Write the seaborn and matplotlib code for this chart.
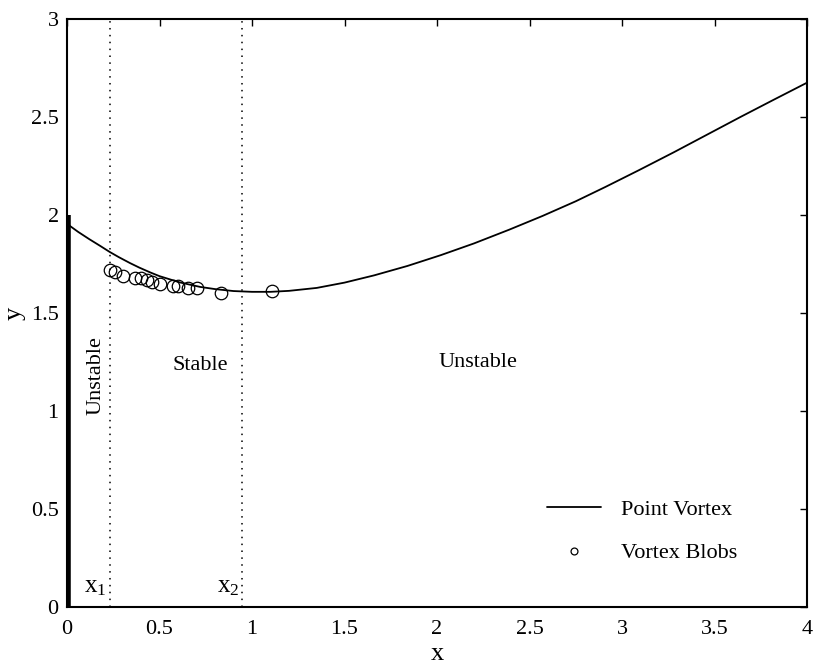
import matplotlib
matplotlib.use("Agg")
import matplotlib.pyplot as plt
import seaborn as sns
import pandas as pd

# Equilibrium curve of a point vortex behind the plate
curve_x = [0.0, 0.06, 0.12, 0.18, 0.23, 0.28, 0.34, 0.39, 0.45, 0.50, 0.61, 0.72,
           0.80, 0.90, 1.00, 1.10, 1.20, 1.35, 1.50, 1.66, 1.84, 2.02, 2.20, 2.39,
           2.57, 2.75, 2.91, 3.09, 3.28, 3.46, 3.64, 3.82, 4.00]
curve_y = [1.955, 1.914, 1.877, 1.842, 1.812, 1.785, 1.755, 1.732, 1.707, 1.688, 1.656, 1.633,
           1.622, 1.612, 1.608, 1.608, 1.613, 1.628, 1.655, 1.692, 1.740, 1.795, 1.855, 1.925,
           1.995, 2.070, 2.143, 2.228, 2.320, 2.410, 2.500, 2.588, 2.675]

# Vortex-blob equilibrium positions
blob_x = [0.23, 0.26, 0.30, 0.37, 0.40, 0.43, 0.46, 0.50, 0.575, 0.60, 0.655, 0.70, 0.83, 1.11]
blob_y = [1.72, 1.71, 1.69, 1.68, 1.68, 1.67, 1.66, 1.65, 1.64, 1.64, 1.63, 1.63, 1.60, 1.61]

# Stability boundaries
x1_pos = 0.235
x2_pos = 0.945
plate_height = 2.0

x_ticks = [0, 0.5, 1, 1.5, 2, 2.5, 3, 3.5, 4]
x_tick_labels = ["0", "0.5", "1", "1.5", "2", "2.5", "3", "3.5", "4"]
y_ticks = [0, 0.5, 1, 1.5, 2, 2.5, 3]
y_tick_labels = ["0", "0.5", "1", "1.5", "2", "2.5", "3"]

sns.set_theme(style="white")
plt.rcParams["font.family"] = ["Liberation Serif", "DejaVu Serif"]
plt.rcParams["mathtext.fontset"] = "custom"
plt.rcParams["mathtext.rm"] = "Liberation Serif"
plt.rcParams["mathtext.it"] = "Liberation Serif:italic"
plt.rcParams["text.color"] = "black"
plt.rcParams["axes.labelcolor"] = "black"

fig = plt.figure(figsize=(8.17, 6.66), dpi=100)
ax = fig.add_axes([67 / 817, 1 - 607 / 666, 740 / 817, 588 / 666])

curve = pd.DataFrame({"x": curve_x, "y": curve_y})
blobs = pd.DataFrame({"x": blob_x, "y": blob_y})

sns.lineplot(data=curve, x="x", y="y", color="black", lw=1.3, sort=False,
             estimator=None, ax=ax, label="Point Vortex", solid_joinstyle="round")
sns.lineplot(data=blobs, x="x", y="y", color="black", linestyle="none", marker="o",
             markersize=9, markerfacecolor="none", markeredgecolor="black",
             markeredgewidth=0.9, sort=False, estimator=None, ax=ax,
             label="Vortex Blobs")

# Flat plate along the y axis
ax.plot([0.008, 0.008], [0, plate_height], color="black", lw=4, solid_capstyle="butt")

# Stability boundaries
for xv in (x1_pos, x2_pos):
    ax.axvline(xv, color="black", lw=1.1, linestyle=(0, (1, 3.5)))

ax.text(0.155, 1.18, "Unstable", rotation=90, ha="center", va="center", fontsize=16)
ax.text(0.72, 1.23, "Stable", ha="center", va="center", fontsize=16)
ax.text(2.22, 1.25, "Unstable", ha="center", va="center", fontsize=16)
ax.text(0.15, 0.1, r"$\mathrm{x}_1$", ha="center", va="center", fontsize=18)
ax.text(0.87, 0.1, r"$\mathrm{x}_2$", ha="center", va="center", fontsize=18)

ax.set_xlim(0, 4)
ax.set_ylim(0, 3)
ax.set_xticks(x_ticks)
ax.set_xticklabels(x_tick_labels)
ax.set_yticks(y_ticks)
ax.set_yticklabels(y_tick_labels)
ax.tick_params(direction="in", length=5, width=1, top=True, right=True,
               labelsize=16, colors="black")
ax.tick_params(axis="x", pad=9)
ax.tick_params(axis="y", pad=6)
for sp in ax.spines.values():
    sp.set_color("black")
    sp.set_linewidth(1.5)

ax.set_xlabel("x", fontsize=19, labelpad=3)
ax.set_ylabel("y", fontsize=19, labelpad=4)

leg = ax.legend(loc="lower left", bbox_to_anchor=(0.622, 0.04), frameon=False,
                fontsize=16, handlelength=2.4, handletextpad=0.9,
                labelspacing=1.05, markerscale=0.55)

fig.savefig("out.png", dpi=100, facecolor="white")
